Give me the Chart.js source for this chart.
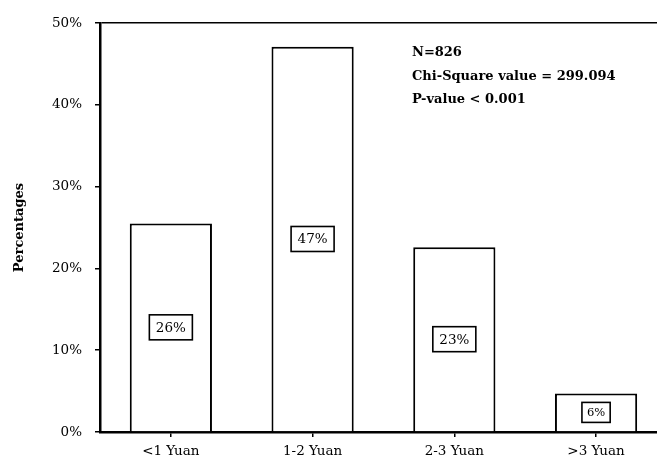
<!DOCTYPE html>
<html>
<head>
<meta charset="utf-8">
<script src="https://cdn.jsdelivr.net/npm/chart.js@4/dist/chart.umd.min.js"></script>
<style>
  html, body { margin: 0; padding: 0; background: #fff; overflow: hidden; }
  #wrap { width: 657px; height: 464px; }
</style>
</head>
<body>
<div id="wrap"><canvas id="priceChart"></canvas></div>
<script>
// categories and values
const categories = ["<1 Yuan", "1-2 Yuan", "2-3 Yuan", ">3 Yuan"];
const shares = [25.5, 47.1, 22.6, 4.7];
const shareLabels = ["26%", "47%", "23%", "6%"];
const yTicks = [0, 10, 20, 30, 40, 50];
const statsLines = ["N=826", "Chi-Square value = 299.094", "P-value < 0.001"];

const serif = "'DejaVu Serif', serif";

// boxed percentage in the middle of every bar
const boxLabels = {
    id: "boxLabels",
    afterDatasetsDraw(chart) {
        const ctx = chart.ctx;
        const meta = chart.getDatasetMeta(0);
        meta.data.forEach((bar, i) => {
            const small = shares[i] < 10;
            const size = small ? 11.5 : 13.5;
            ctx.save();
            ctx.font = size + "px " + serif;
            const w = ctx.measureText(shareLabels[i]).width + (small ? 10 : 13);
            const h = small ? 20 : 25;
            const cx = bar.x;
            const cy = (bar.y + bar.base) / 2;
            ctx.fillStyle = "#fff";
            ctx.fillRect(cx - w / 2, cy - h / 2, w, h);
            ctx.lineWidth = 1.6;
            ctx.strokeStyle = "#000";
            ctx.strokeRect(cx - w / 2, cy - h / 2, w, h);
            ctx.fillStyle = "#000";
            ctx.textAlign = "center";
            ctx.textBaseline = "middle";
            ctx.fillText(shareLabels[i], cx, cy + 1);
            ctx.restore();
        });
    }
};

// statistics note, top right
const statsNote = {
    id: "statsNote",
    afterDraw(chart) {
        const ctx = chart.ctx;
        const area = chart.chartArea;
        ctx.save();
        ctx.font = "bold 13px " + serif;
        ctx.fillStyle = "#000";
        ctx.textBaseline = "middle";
        statsLines.forEach((line, i) => {
            ctx.fillText(line, area.left + 312, area.top + 30 + i * 23.5);
        });
        ctx.restore();
    }
};

const ctx = document.getElementById("priceChart").getContext("2d");

new Chart(ctx, {
    type: "bar",
    data: {
        datasets: [{
            data: shares.map((v, i) => ({ x: i, y: v })),
            backgroundColor: "#fff",
            borderColor: "#000",
            borderWidth: 2,
            barPercentage: 0.58,
            categoryPercentage: 1
        }]
    },
    options: {
        responsive: true,
        maintainAspectRatio: false,
        animation: false,
        layout: { padding: { top: 23, left: 0, right: 0, bottom: 0 } },
        plugins: {
            legend: { display: false },
            tooltip: { enabled: false }
        },
        scales: {
            x: {
                type: "linear",
                offset: false,
                min: -0.5,
                max: 3.43,
                afterBuildTicks: s => { s.ticks = categories.map((c, i) => ({ value: i })); },
                afterFit: s => { s.height = 32; },
                ticks: {
                    callback: v => categories[v],
                    color: "#000",
                    padding: 6,
                    font: { family: serif, size: 13.5 }
                },
                grid: { offset: false, drawOnChartArea: false, tickLength: 5, tickColor: "#000", lineWidth: 1.5 },
                border: { color: "#000", width: 2.5 }
            },
            y: {
                min: 0,
                max: 50,
                afterBuildTicks: s => { s.ticks = yTicks.map(v => ({ value: v })); },
                afterFit: s => { s.width = 100; },
                ticks: {
                    callback: v => v + "%",
                    color: "#000",
                    padding: 13,
                    font: { family: serif, size: 13.5 }
                },
                grid: {
                    drawOnChartArea: true,
                    tickLength: 5,
                    lineWidth: 1.5,
                    color: c => (c.tick && c.tick.value === 50) ? "#000" : "rgba(0,0,0,0)",
                    tickColor: "#000"
                },
                border: { color: "#000", width: 2.5 },
                title: {
                    display: true,
                    text: "Percentages",
                    color: "#000",
                    padding: { top: 12, bottom: 0 },
                    font: { family: serif, size: 13, weight: "bold" }
                }
            }
        }
    },
    plugins: [boxLabels, statsNote]
});
</script>
</body>
</html>
